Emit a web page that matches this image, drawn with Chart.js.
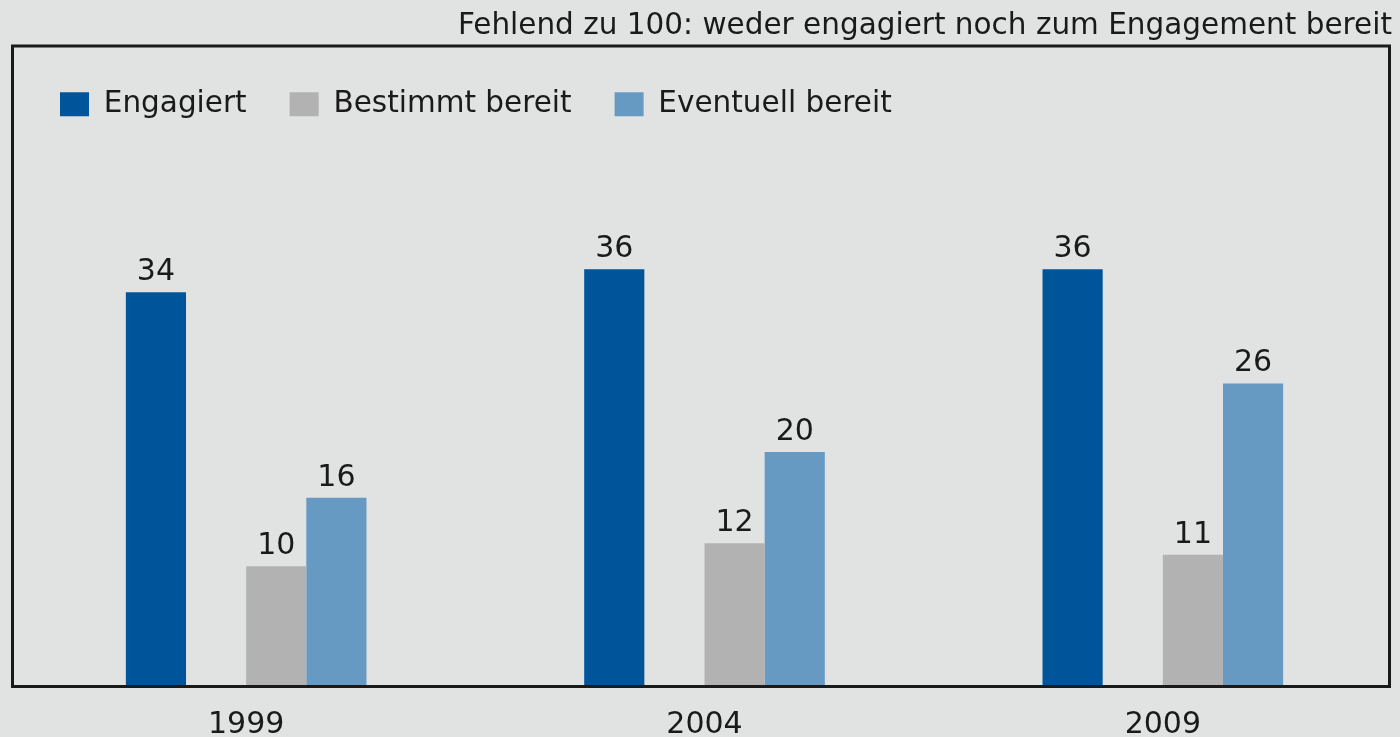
<!DOCTYPE html>
<html>
<head>
<meta charset="utf-8">
<script src="https://cdn.jsdelivr.net/npm/chart.js@4.4.1/dist/chart.umd.min.js"></script>
<style>
  html, body { margin: 0; padding: 0; background: #e1e3e2; }
  #wrap { width: 1400px; height: 737px; }
</style>
</head>
<body>
<div id="wrap"><canvas id="chart" width="1400" height="737"></canvas></div>
<script>
const years = ['1999', '2004', '2009'];
const engagiert = [34, 36, 36];
const bestimmt = [10, 12, 11];
const eventuell = [16, 20, 26];
const spacer = [0, 0, 0];
const titleText = 'Fehlend zu 100: weder engagiert noch zum Engagement bereit';

const ink = '#1a1a1a';
const fontFamily = "'DejaVu Sans', sans-serif";

// frame around the plot, from below the title down to the x baseline
const framePlugin = {
  id: 'frame',
  afterDatasetsDraw(chart) {
    const ctx = chart.ctx;
    const top = 46;
    ctx.save();
    ctx.strokeStyle = ink;
    ctx.lineWidth = 3;
    ctx.strokeRect(12.5, top, 1377, chart.chartArea.bottom + 0.5 - top);
    ctx.restore();
  }
};

// value labels above the bars
const valueLabels = {
  id: 'valueLabels',
  afterDatasetsDraw(chart) {
    const ctx = chart.ctx;
    ctx.save();
    ctx.fillStyle = ink;
    ctx.font = '30px ' + fontFamily;
    ctx.textAlign = 'center';
    ctx.textBaseline = 'alphabetic';
    chart.data.datasets.forEach((ds, i) => {
      if (ds.spacer) return;
      chart.getDatasetMeta(i).data.forEach((bar, j) => {
        ctx.fillText(String(ds.data[j]), bar.x, bar.y - 12);
      });
    });
    ctx.restore();
  }
};

new Chart(document.getElementById('chart'), {
  type: 'bar',
  data: {
    labels: years,
    datasets: [
      { label: 'Engagiert', data: engagiert, backgroundColor: '#00559a' },
      { label: '', data: spacer, backgroundColor: 'rgba(0,0,0,0)', spacer: true },
      { label: 'Bestimmt bereit', data: bestimmt, backgroundColor: '#b1b2b1' },
      { label: 'Eventuell bereit', data: eventuell, backgroundColor: '#669ac3' },
    ],
  },
  options: {
    responsive: false,
    animation: false,
    layout: { padding: { left: 17, right: 8, top: 0, bottom: -19 } },
    datasets: {
      bar: { categoryPercentage: 0.525, barPercentage: 1.0, borderWidth: 0, base: -0.5 }
    },
    scales: {
      x: {
        grid: { display: false },
        border: { display: false },
        ticks: { color: ink, padding: 16, font: { family: fontFamily, size: 30, lineHeight: 1 } },
      },
      y: { display: false, min: -0.5, max: 48.3 },
    },
    plugins: {
      title: {
        display: true,
        text: titleText,
        align: 'end',
        color: ink,
        font: { family: fontFamily, size: 29.5, weight: 'normal', lineHeight: 1.2 },
        padding: { top: 9, bottom: 2 },
      },
      legend: {
        position: 'top',
        align: 'start',
        labels: {
          filter: (item) => item.text !== '',
          color: ink,
          boxWidth: 29,
          boxHeight: 24,
          padding: 43,
          font: { family: fontFamily, size: 29.5 },
        },
      },
      tooltip: { enabled: false },
    },
  },
  plugins: [framePlugin, valueLabels],
});
</script>
</body>
</html>
